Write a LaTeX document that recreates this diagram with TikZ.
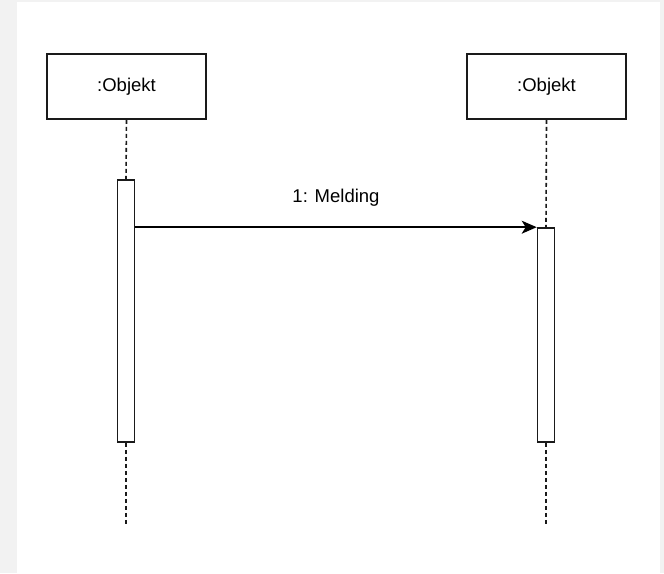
\documentclass[tikz,border=0pt]{standalone}
\usepackage{fontspec}
\setmainfont{Liberation Sans}
\usetikzlibrary{arrows.meta}
\definecolor{pagegray}{HTML}{F2F2F2}
\definecolor{linegray}{HTML}{1A1A1A}

\tikzset{
  objbox/.style={draw=linegray, line width=1.6pt, fill=white, minimum width=159, minimum height=65, inner sep=0pt, font=\fontsize{18.5}{22}\selectfont},
  actbox/.style={draw=linegray, line width=1.6pt, fill=white, minimum width=17, inner sep=0pt},
  lifeline/.style={draw=linegray, line width=1.6pt, dash pattern=on 4pt off 3pt},
  msgarrow/.style={draw=black, line width=1.5pt, -{Stealth[length=15pt, width=13pt, inset=4pt]}}
}

\begin{document}
\begin{tikzpicture}[x=1pt, y=-1pt]
\fill[pagegray] (0,0) rectangle (664,573);
\fill[white] (17,2) rectangle (660,573);
% objects
\node[objbox] (objA) at (126.5,86.5) {:Objekt};
\node[objbox] (objB) at (546.5,86.5) {:Objekt};
% activations
\node[actbox, minimum height=262] (actA) at (126,311) {};
\node[actbox, minimum height=214] (actB) at (546,335) {};
\coordinate (endA) at (126,526);
\coordinate (endB) at (546,526);
% lifelines
\draw[lifeline] (objA.south) -- (actA.north);
\draw[lifeline] (actA.south) -- (endA);
\draw[lifeline] (objB.south) -- (actB.north);
\draw[lifeline] (actB.south) -- (endB);
% message
\draw[msgarrow] (actA.east |- actB.north west) -- (actB.north west);
\node[font=\fontsize{18.5}{22}\selectfont] (msgLbl) at (336,198) {1: Melding};
\end{tikzpicture}
\end{document}
